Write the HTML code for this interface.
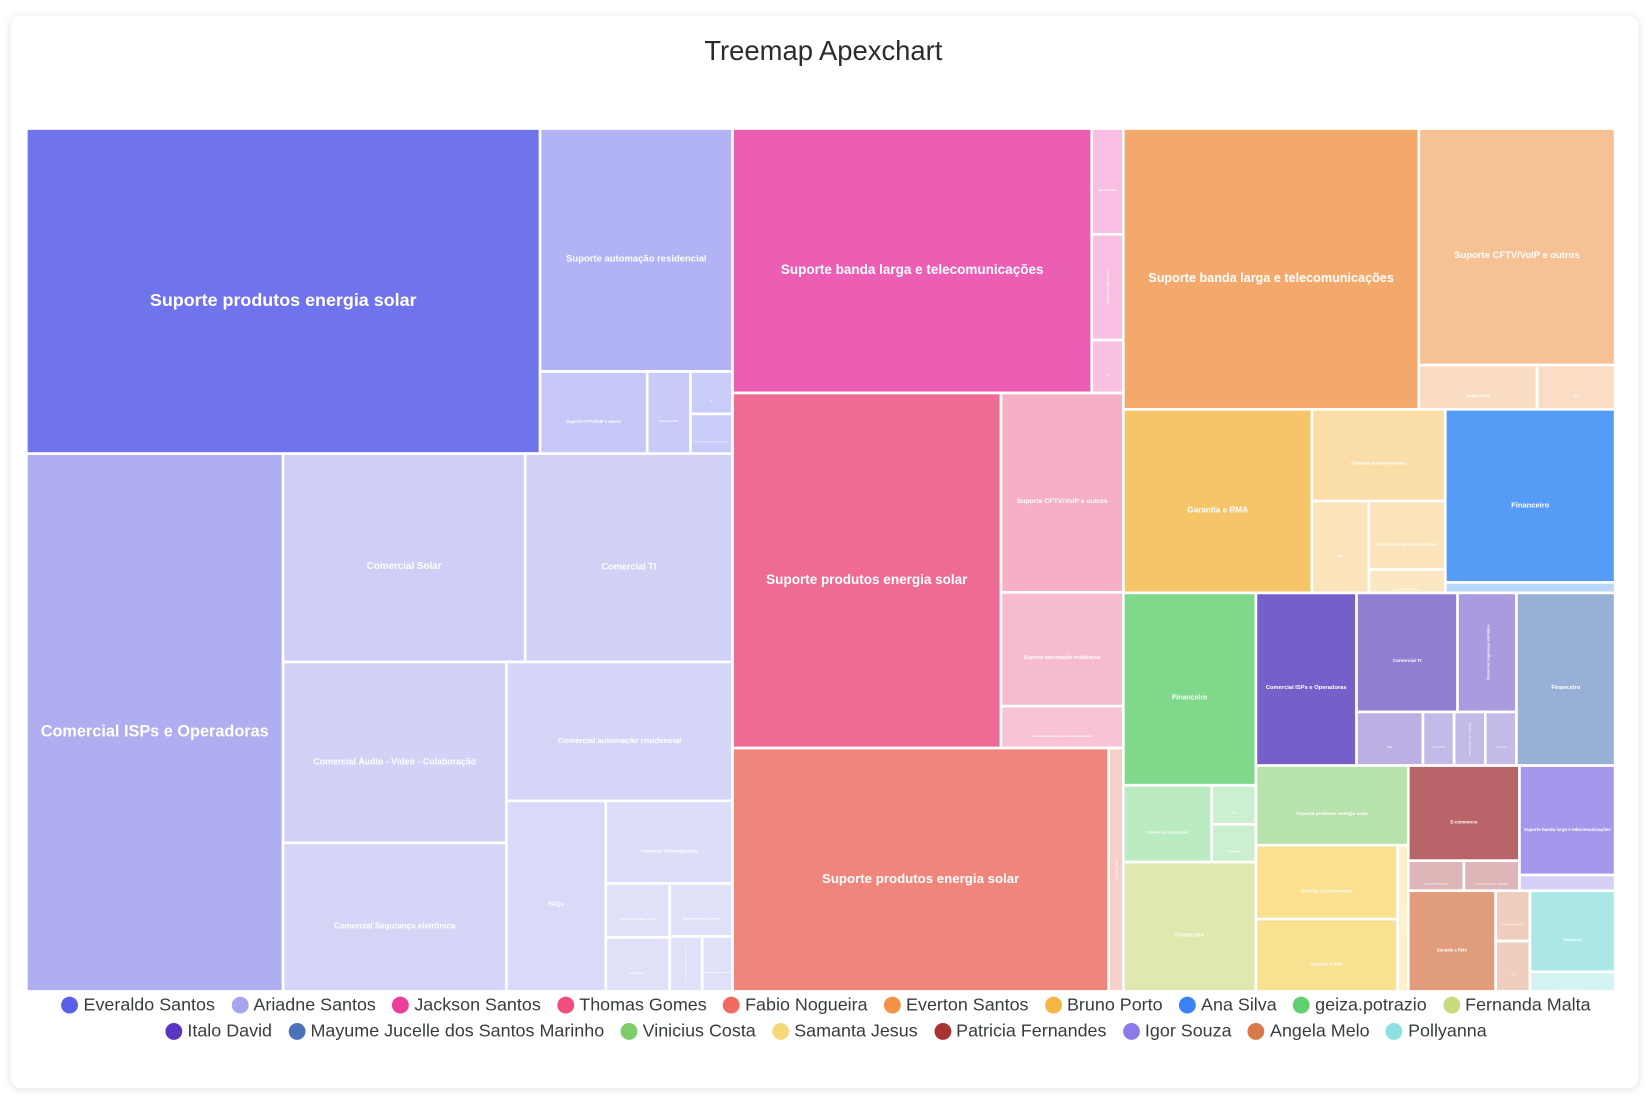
<!DOCTYPE html>
<html><head><meta charset="utf-8"><style>
html,body{margin:0;padding:0;background:#fff;width:1652px;height:1114px;overflow:hidden}
#wrap{position:absolute;left:0;top:0;width:1568px;height:1058px;transform:scale(1.05357);transform-origin:0 0;font-family:"Liberation Sans",Arial,sans-serif}
#card{position:absolute;left:10px;top:15px;width:1545px;height:1018px;background:#fff;border-radius:10px;box-shadow:0 1px 8px rgba(0,0,0,0.12)}
#title{position:absolute;left:0;top:33px;width:1563px;text-align:center;font-size:26px;color:#2b2b2b}
#chart{position:absolute;left:0;top:0}
#legend{position:absolute;left:14px;top:943px;width:1540px;display:flex;flex-wrap:wrap;justify-content:center;row-gap:4px;column-gap:15.5px;font-size:17px;color:#373d3f}
.li{display:flex;align-items:center;height:21px}
.dot{width:16px;height:16px;border-radius:50%;margin-right:5px}
</style></head><body>
<div id="wrap">
<div id="card"></div>
<div id="title">Treemap Apexchart</div>
<svg id="chart" width="1568" height="1058"></svg>
<div id="legend"></div>
</div>
<script>
const seriesNames = ["Everaldo Santos","Ariadne Santos","Jackson Santos","Thomas Gomes","Fabio Nogueira","Everton Santos","Bruno Porto","Ana Silva","geiza.potrazio","Fernanda Malta","Italo David","Mayume Jucelle dos Santos Marinho","Vinicius Costa","Samanta Jesus","Patricia Fernandes","Igor Souza","Angela Melo","Pollyanna"];
const legendColors = ["#5b5fe8","#a5a6ee","#ec3d9a","#f04e7c","#f06b60","#f39244","#f5b545","#3b82f6","#62cf72","#c8dc7e","#5b35c0","#4a72b8","#7fcc6a","#f7d878","#a83232","#8b7ae8","#d97a4a","#8fe0e0"];
const fillColors = ["#7074ec","#aeaef0","#ec5db4","#ee6b94","#f0857c","#f3a96b","#f6c56a","#559cf7","#80d98b","#dfe8ae","#765fc8","#98b0d6","#b8e2ac","#fae08f","#b86468","#a697ed","#e09c7b","#ace8e8"];
const seriesLabels = [
 ["Suporte produtos energia solar","Suporte automação residencial","Suporte CFTV/VoIP e outros","Garantia e RMA","Pós","Suporte banda larga e telecomunicações"],
 ["Comercial ISPs e Operadoras","Comercial Solar","Comercial TI","Comercial Áudio - Vídeo - Colaboração","Comercial Segurança eletrônica","Comercial automação residencial","FAQs","Comercial Cibersegurança","Suporte CFTV/VoIP e outros","E-commerce","Suporte automação residencial","Suporte banda larga e telecomunicações","Suporte produtos energia solar"],
 ["Suporte banda larga e telecomunicações","Garantia e RMA","Suporte CFTV/VoIP e outros","Pós"],
 ["Suporte produtos energia solar","Suporte CFTV/VoIP e outros","Suporte automação residencial","Suporte banda larga e telecomunicações"],
 ["Suporte produtos energia solar","Garantia e RMA"],
 ["Suporte banda larga e telecomunicações","Suporte CFTV/VoIP e outros","Garantia e RMA","Pós"],
 ["Garantia e RMA","Dúvidas ou ocorrências","Pós","Suporte banda larga e telecomunicações","Suporte CFTV/VoIP e outros"],
 ["Financeiro","Dúvidas ou ocorrências"],
 ["Financeiro","Dúvidas ou ocorrências","Pós","Garantia e RMA"],
 ["Financeiro"],
 ["Comercial ISPs e Operadoras","Comercial TI","Comercial Segurança eletrônica","Pós","Comercial Solar","Comercial Áudio - Vídeo - Colaboração","E-commerce"],
 ["Financeiro"],
 ["Suporte produtos energia solar"],
 ["Dúvidas ou ocorrências","Garantia e RMA","Suporte produtos energia solar"],
 ["E-commerce","Comercial ISPs e Operadoras","Comercial Áudio - Vídeo - Colaboração"],
 ["Suporte banda larga e telecomunicações","Comercial TI"],
 ["Garantia e RMA","Dúvidas ou ocorrências","Pós"],
 ["Financeiro","Dúvidas ou ocorrências"]
];
const seriesValues = [
 [150,42,7.9,3.2,1.6,1.5],
 [124,45.3,38.8,36.3,29.8,28.2,17,9.4,3.1,3.1,3.0,1.6,1.5],
 [85.3,3.0,3.0,1.5],
 [85.6,21.9,12.5,4.6],
 [82.2,3.2],
 [74.5,41.7,4.7,3.1],
 [31.1,11.0,4.7,4.7,1.6],
 [26.4,1.6],
 [22.9,6.1,1.55,1.5],
 [15.4],
 [15.6,10.8,6.3,3.2,1.5,1.5,1.5],
 [15.3],
 [10.9],
 [9.4,9.2,1.4],
 [9.5,1.5,1.5],
 [9.4,1.35],
 [7.9,1.55,1.55],
 [6.2,1.5]
];

const GX=25, GY=122, GW=1508, GH=819;
const sum=a=>a.reduce((s,v)=>s+v,0);
function ratio(row,len){const mn=Math.min(...row),mx=Math.max(...row),s=sum(row);return Math.max(len*len*mx/(s*s),s*s/(len*len*mn));}
function squarify(vals,x,y,w,h){
  const tot=sum(vals), k=w*h/tot, data=vals.map(v=>v*k), out=[];
  let c={x,y,w,h}, row=[], i=0;
  function coords(row){const s=sum(row);
    if(c.w>=c.h){const aw=s/c.h;let yy=c.y;row.forEach(v=>{out.push([c.x,yy,aw,v/aw]);yy+=v/aw;});c={x:c.x+aw,y:c.y,w:c.w-aw,h:c.h};}
    else{const ah=s/c.w;let xx=c.x;row.forEach(v=>{out.push([xx,c.y,v/ah,ah]);xx+=v/ah;});c={x:c.x,y:c.y+ah,w:c.w,h:c.h-ah};}}
  while(i<data.length){const len=Math.min(c.w,c.h);
    if(row.length===0||ratio(row,len)>=ratio(row.concat([data[i]]),len)){row.push(data[i]);i++;}
    else{coords(row);row=[];}}
  if(row.length)coords(row);
  return out;
}
function mixWhite(hex,t){const n=parseInt(hex.slice(1),16);const r=n>>16,g=(n>>8)&255,b=n&255;
  const f=v=>Math.round(v+(255-v)*t);return `rgb(${f(r)},${f(g)},${f(b)})`;}
const svg=document.getElementById('chart'), NS='http://www.w3.org/2000/svg';
const avgLen=22.8;
const outer=squarify(seriesValues.map(sum),GX,GY,GW,GH);
seriesValues.forEach((vals,si)=>{
  const [ox,oy,ow,oh]=outer[si];
  const g=document.createElementNS(NS,'g');
  
  
  svg.appendChild(g);
  const rects=squarify(vals,ox,oy,ow,oh), mx=Math.max(...vals);
  rects.forEach(([x,y,w,h],j)=>{
    const r=document.createElementNS(NS,'rect');
    r.setAttribute('x',x);r.setAttribute('y',y);r.setAttribute('width',Math.max(w,0));r.setAttribute('height',Math.max(h,0));
    r.setAttribute('fill',mixWhite(fillColors[si],0.63*(1-vals[j]/mx)));
    r.setAttribute('stroke','#fff');r.setAttribute('stroke-width','2.5');
    
    
    g.appendChild(r);
    const lab=seriesLabels[si][j];
    let fs=Math.min(Math.sqrt(w*h)/avgLen,18);
    const t=document.createElementNS(NS,'text');
    const cx=x+w/2, cy=y+h/2;
    const tw=lab.length*fs*0.56;
    const rot = tw>w && h>w;
    t.setAttribute('x',rot?cx+fs*0.35:cx);t.setAttribute('y',rot?cy:cy+8.5);
    t.setAttribute('text-anchor','middle');t.setAttribute('dominant-baseline','central');
    t.setAttribute('fill','#fff');t.setAttribute('font-weight','bold');t.setAttribute('font-size',fs.toFixed(2));
    if(rot) t.setAttribute('transform',`rotate(-90 ${cx+fs*0.35} ${cy})`);
    t.textContent=lab;
    
    
    g.appendChild(t);
  });
});
const leg=document.getElementById('legend');
seriesNames.forEach((n,i)=>{
  const it=document.createElement('div');it.className='li';
  
  
  const d=document.createElement('span');d.className='dot';d.style.background=legendColors[i];
  
  
  const s=document.createElement('span');s.textContent=n;
  
  
  it.appendChild(d);it.appendChild(s);leg.appendChild(it);
});
</script>
</body></html>
